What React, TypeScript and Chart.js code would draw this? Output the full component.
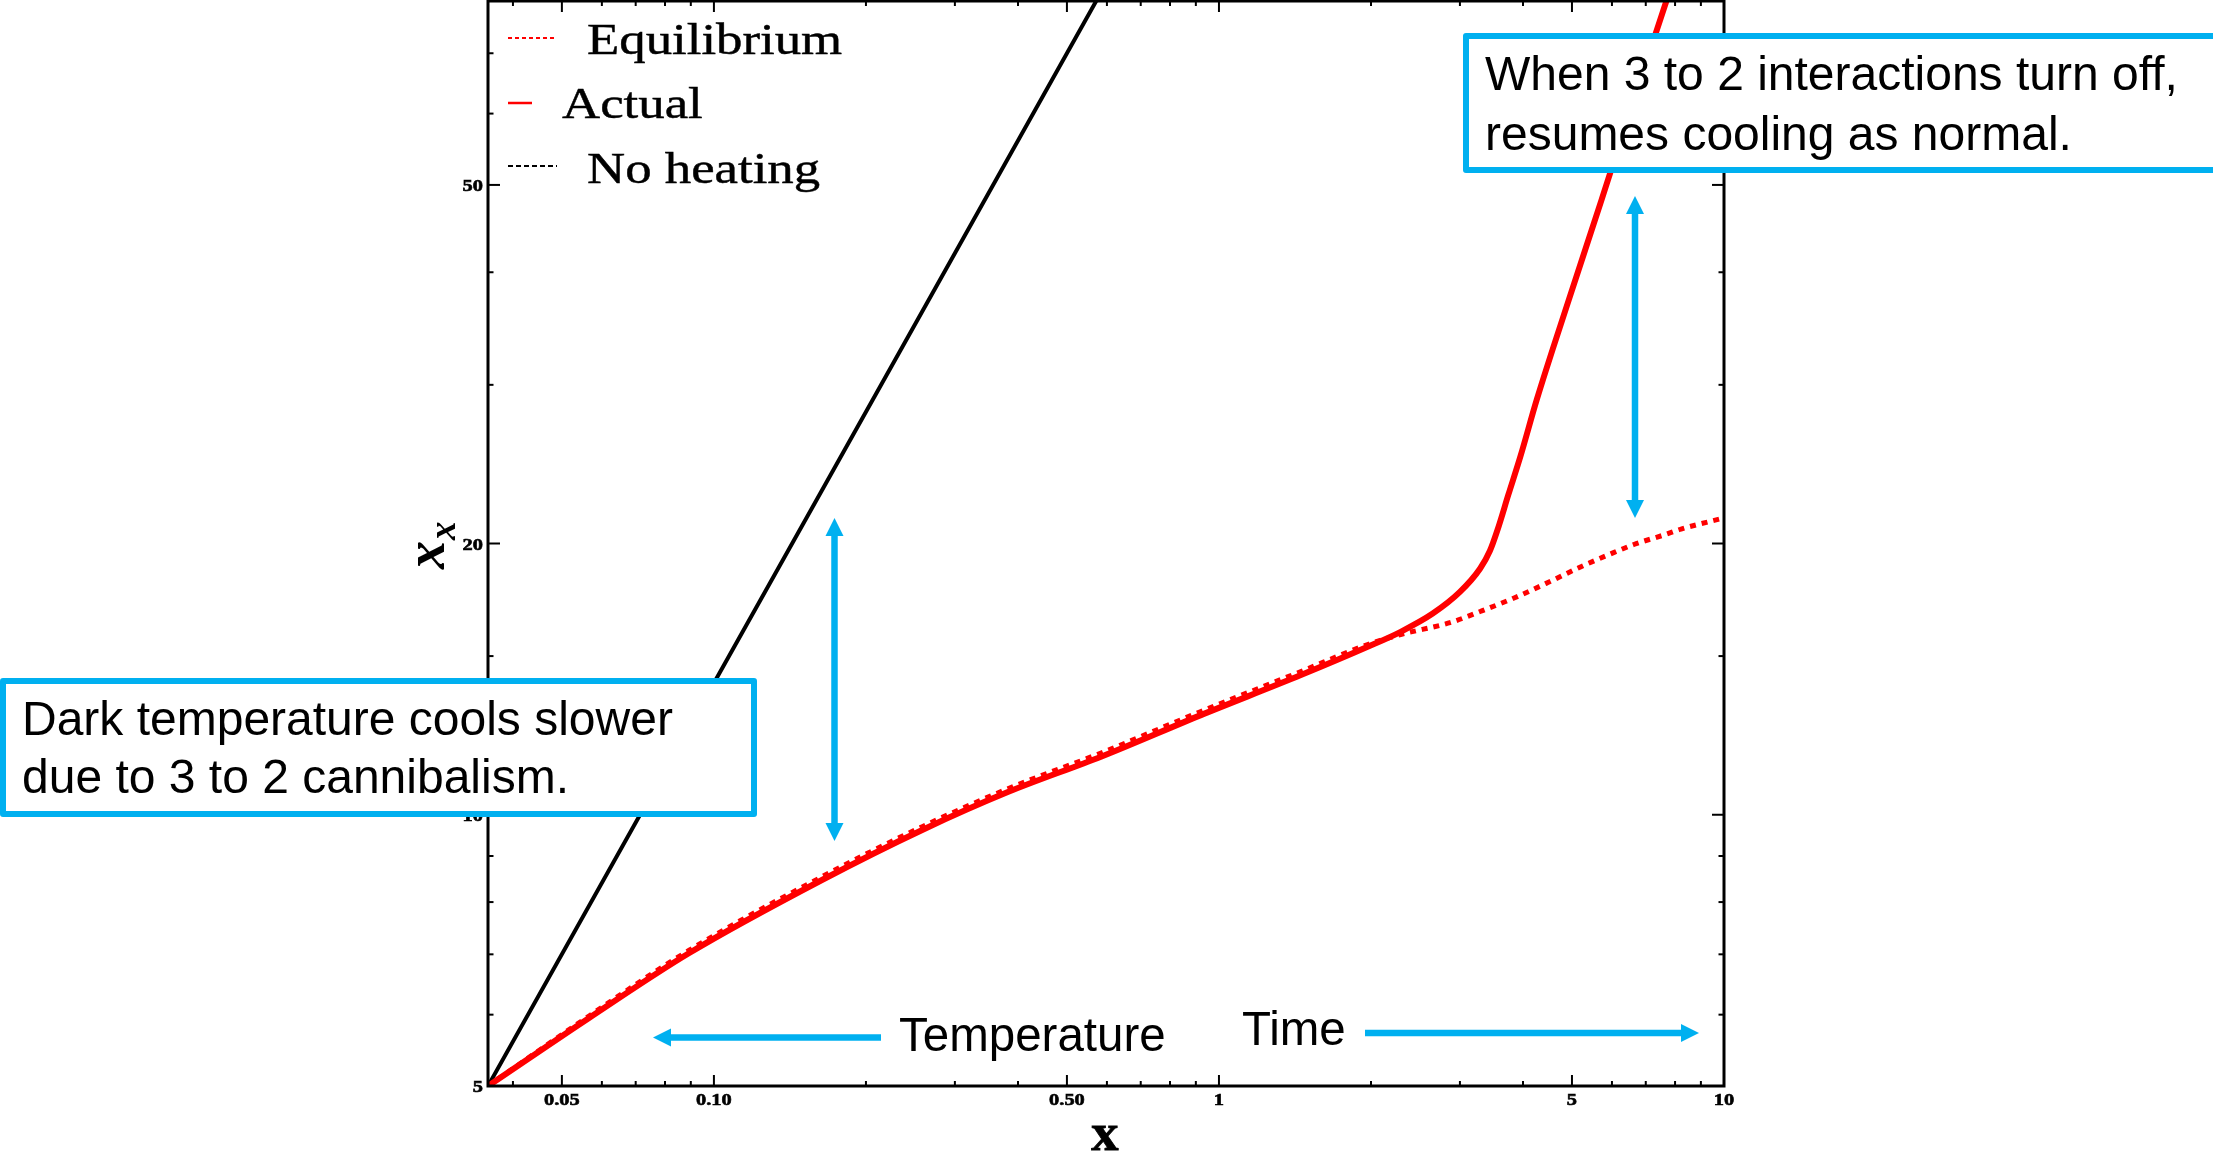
import { useEffect, useRef } from "react";
import { Chart, registerables } from "chart.js";

Chart.register(...registerables);

// Dark-sector temperature parameter x_x against x (log-log)
const equilibriumX = [0.0357, 0.0566, 0.0892, 0.164, 0.2585, 0.384, 0.584, 0.921, 1.453, 1.97, 2.29, 2.88, 3.3, 3.84, 4.48, 5.21, 6.06, 6.63, 7.62, 8.22, 10];
const equilibriumY = [5, 5.98, 7.07, 8.54, 9.7, 10.7, 11.71, 13.02, 14.42, 15.45, 15.85, 16.35, 16.82, 17.4, 18.1, 18.85, 19.55, 19.95, 20.45, 20.75, 21.35];

const actualX = [0.0357, 0.0566, 0.0892, 0.164, 0.2585, 0.384, 0.584, 0.921, 1.453, 1.97, 2.29, 2.65, 3.0, 3.29, 3.44, 3.56, 3.74, 3.95, 4.26, 4.93, 5.72, 6.63, 7.69, 8.28];
const actualY = [5, 5.95, 7.02, 8.47, 9.62, 10.61, 11.6, 12.9, 14.29, 15.36, 15.96, 16.72, 17.67, 18.76, 19.63, 20.7, 22.64, 24.95, 28.9, 37.3, 48.1, 62.2, 80, 91.2];

const noHeatingX = [0.0357, 0.1, 0.3, 0.62];
const noHeatingY = [5, 14.0, 42.0, 86.8];

const xMajorTicks = [0.05, 0.1, 0.5, 1, 5, 10];
const xMajorLabels = ["0.05", "0.10", "0.50", "1", "5", "10"];
const xMinorTicks = [0.04, 0.06, 0.07, 0.08, 0.09, 0.2, 0.3, 0.4, 0.6, 0.7, 0.8, 0.9, 2, 3, 4, 6, 7, 8, 9];
const yMajorTicks = [5, 10, 20, 50];
const yMajorLabels = ["5", "10", "20", "50"];
const yMinorTicks = [6, 7, 8, 9, 15, 30, 40, 60, 70];

const seriesLabels = ["Equilibrium", "Actual", "No heating"];
const noteLeft = ["Dark temperature cools slower", "due to 3 to 2 cannibalism."];
const noteRight = ["When 3 to 2 interactions turn off,", "resumes cooling as normal."];
const wordTemperature = "Temperature";
const wordTime = "Time";

const BLUE = "#00B0F0";
const RED = "#ff0000";

const toPoints = (xs: number[], ys: number[]) => xs.map((x, i) => ({ x, y: ys[i] }));

function stretchedText(ctx: CanvasRenderingContext2D, text: string, x: number, y: number, sx: number, align: CanvasTextAlign, heavy = 0) {
  ctx.save();
  ctx.translate(x, y);
  ctx.scale(sx, 1);
  ctx.textAlign = align;
  ctx.fillText(text, 0, 0);
  if (heavy > 0) {
    ctx.lineWidth = heavy;
    ctx.strokeStyle = ctx.fillStyle as string;
    ctx.setLineDash([]);
    ctx.strokeText(text, 0, 0);
  }
  ctx.restore();
}

function arrow(ctx: CanvasRenderingContext2D, x1: number, y1: number, x2: number, y2: number, startHead: boolean, endHead: boolean) {
  const dx = x2 - x1;
  const dy = y2 - y1;
  const len = Math.hypot(dx, dy);
  const ux = dx / len;
  const uy = dy / len;
  const headLen = 18;
  const half = 9;
  const sx = startHead ? x1 + ux * (headLen - 2) : x1;
  const sy = startHead ? y1 + uy * (headLen - 2) : y1;
  const ex = endHead ? x2 - ux * (headLen - 2) : x2;
  const ey = endHead ? y2 - uy * (headLen - 2) : y2;
  ctx.strokeStyle = BLUE;
  ctx.fillStyle = BLUE;
  ctx.lineWidth = 6.5;
  ctx.lineCap = "butt";
  ctx.setLineDash([]);
  ctx.beginPath();
  ctx.moveTo(sx, sy);
  ctx.lineTo(ex, ey);
  ctx.stroke();
  const head = (tx: number, ty: number, vx: number, vy: number) => {
    const bx = tx - vx * headLen;
    const by = ty - vy * headLen;
    ctx.beginPath();
    ctx.moveTo(tx, ty);
    ctx.lineTo(bx - vy * half, by + vx * half);
    ctx.lineTo(bx + vy * half, by - vx * half);
    ctx.closePath();
    ctx.fill();
  };
  if (endHead) head(x2, y2, ux, uy);
  if (startHead) head(x1, y1, -ux, -uy);
}

function noteBox(ctx: CanvasRenderingContext2D, x: number, y: number, w: number, h: number, lines: string[], textX: number, baselines: number[]) {
  ctx.save();
  ctx.fillStyle = "#ffffff";
  ctx.fillRect(x, y, w, h);
  ctx.strokeStyle = BLUE;
  ctx.lineWidth = 6;
  ctx.lineJoin = "round";
  ctx.strokeRect(x, y, w, h);
  ctx.fillStyle = "#000000";
  ctx.font = '48px "Liberation Sans", Arial, sans-serif';
  ctx.textAlign = "left";
  ctx.textBaseline = "alphabetic";
  lines.forEach((t, i) => ctx.fillText(t, textX, baselines[i]));
  ctx.restore();
}

const frameAndAnnotations = {
  id: "frameAndAnnotations",
  afterDatasetsDraw(chart: any) {
    const { ctx, chartArea: a, scales } = chart;
    const xs = scales.x;
    const ys = scales.y;
    ctx.save();
    ctx.setLineDash([]);
    ctx.strokeStyle = "#000";

    // inward ticks on all four sides
    ctx.lineWidth = 2;
    const seg = (x1: number, y1: number, x2: number, y2: number) => {
      ctx.beginPath();
      ctx.moveTo(x1, y1);
      ctx.lineTo(x2, y2);
      ctx.stroke();
    };
    const xTick = (v: number, len: number) => {
      const p = xs.getPixelForValue(v);
      seg(p, a.bottom, p, a.bottom - len);
      seg(p, a.top, p, a.top + len);
    };
    const yTick = (v: number, len: number) => {
      const p = ys.getPixelForValue(v);
      seg(a.left, p, a.left + len, p);
      seg(a.right, p, a.right - len, p);
    };
    xMajorTicks.forEach((v) => xTick(v, 11));
    xMinorTicks.forEach((v) => xTick(v, 5));
    yMajorTicks.forEach((v) => yTick(v, 12));
    yMinorTicks.forEach((v) => yTick(v, 5.5));

    // frame
    ctx.lineWidth = 3;
    ctx.strokeRect(a.left, a.top, a.right - a.left, a.bottom - a.top);

    // tick labels
    ctx.fillStyle = "#000";
    ctx.font = 'bold 17px "Liberation Serif", "Times New Roman", serif';
    ctx.textBaseline = "alphabetic";
    xMajorTicks.forEach((v, i) => {
      stretchedText(ctx, xMajorLabels[i], xs.getPixelForValue(v), a.bottom + 18.5, 1.2, "center", 0.6);
    });
    yMajorTicks.forEach((v, i) => {
      stretchedText(ctx, yMajorLabels[i], a.left - 5, ys.getPixelForValue(v) + 6, 1.2, "right", 0.6);
    });

    // axis titles
    ctx.font = 'bold 52px "Liberation Serif", "Times New Roman", serif';
    stretchedText(ctx, "x", (a.left + a.right) / 2 - 1, a.bottom + 64, 1.05, "center", 0.8);

    ctx.save();
    ctx.translate(444, 569);
    ctx.rotate(-Math.PI / 2);
    ctx.textAlign = "left";
    ctx.font = 'italic bold 56px "Liberation Serif", "Times New Roman", serif';
    ctx.fillText("x", 0, 0);
    const w = ctx.measureText("x").width;
    ctx.font = 'italic bold 37px "Liberation Serif", "Times New Roman", serif';
    ctx.fillText("x", w + 1, 11);
    ctx.restore();

    // legend
    const rows = [
      { x0: 508, x1: 557, y: 38, dash: [4, 3], color: RED, width: 2, textX: 587, base: 54 },
      { x0: 508, x1: 532, y: 103, dash: [], color: RED, width: 2.5, textX: 562, base: 118 },
      { x0: 508, x1: 557, y: 166, dash: [5, 3], color: "#000", width: 2, textX: 587, base: 183 },
    ];
    ctx.font = '44px "Liberation Serif", "Times New Roman", serif';
    rows.forEach((r, i) => {
      ctx.strokeStyle = r.color;
      ctx.lineWidth = r.width;
      ctx.setLineDash(r.dash);
      seg(r.x0, r.y, r.x1, r.y);
      ctx.setLineDash([]);
      ctx.fillStyle = "#000";
      stretchedText(ctx, chart.data.datasets[i].label, r.textX, r.base, 1.2, "left", 0.45);
    });

    // callouts
    noteBox(ctx, 3, 681, 751, 133, noteLeft, 22, [735, 793]);
    noteBox(ctx, 1466, 36, 760, 134, noteRight, 1485, [90, 150]);

    arrow(ctx, 834.5, 518, 834.5, 841, true, true);
    arrow(ctx, 1635, 196, 1635, 518, true, true);
    arrow(ctx, 881, 1037.5, 653, 1037.5, false, true);
    arrow(ctx, 1365, 1033, 1699, 1033, false, true);

    ctx.fillStyle = "#000";
    ctx.font = '47.5px "Liberation Sans", Arial, sans-serif';
    ctx.textAlign = "left";
    ctx.fillText(wordTemperature, 899, 1051);
    ctx.fillText(wordTime, 1242, 1045);

    ctx.restore();
  },
};

export default function App() {
  const ref = useRef<HTMLCanvasElement>(null);

  useEffect(() => {
    if (!ref.current) return;
    const chart = new Chart(ref.current, {
      type: "line",
      data: {
        datasets: [
          {
            label: seriesLabels[0],
            data: toPoints(equilibriumX, equilibriumY),
            borderColor: RED,
            borderWidth: 5,
            borderDash: [6, 6],
            borderCapStyle: "butt",
            pointRadius: 0,
            cubicInterpolationMode: "monotone",
            fill: false,
            order: 0,
          },
          {
            label: seriesLabels[1],
            data: toPoints(actualX, actualY),
            borderColor: RED,
            borderWidth: 6,
            pointRadius: 0,
            cubicInterpolationMode: "monotone",
            fill: false,
            order: 1,
          },
          {
            label: seriesLabels[2],
            data: toPoints(noHeatingX, noHeatingY),
            borderColor: "#000000",
            borderWidth: 4,
            pointRadius: 0,
            tension: 0,
            fill: false,
            order: 2,
          },
        ],
      } as any,
      options: {
        responsive: false,
        devicePixelRatio: 1,
        animation: false,
        events: [],
        layout: { padding: { left: 488, right: 489, top: 1, bottom: 67 } },
        plugins: {
          legend: { display: false },
          tooltip: { enabled: false },
          title: { display: false },
        },
        scales: {
          x: { type: "logarithmic", min: 0.0357, max: 10, display: false },
          y: { type: "logarithmic", min: 5, max: 80, display: false },
        },
      } as any,
      plugins: [frameAndAnnotations],
    });
    return () => chart.destroy();
  }, []);

  return (
    <div style={{ position: "fixed", left: 0, top: 0, width: 2213, height: 1153, background: "#ffffff" }}>
      <canvas ref={ref} width={2213} height={1153} style={{ display: "block", width: 2213, height: 1153 }} />
    </div>
  );
}
